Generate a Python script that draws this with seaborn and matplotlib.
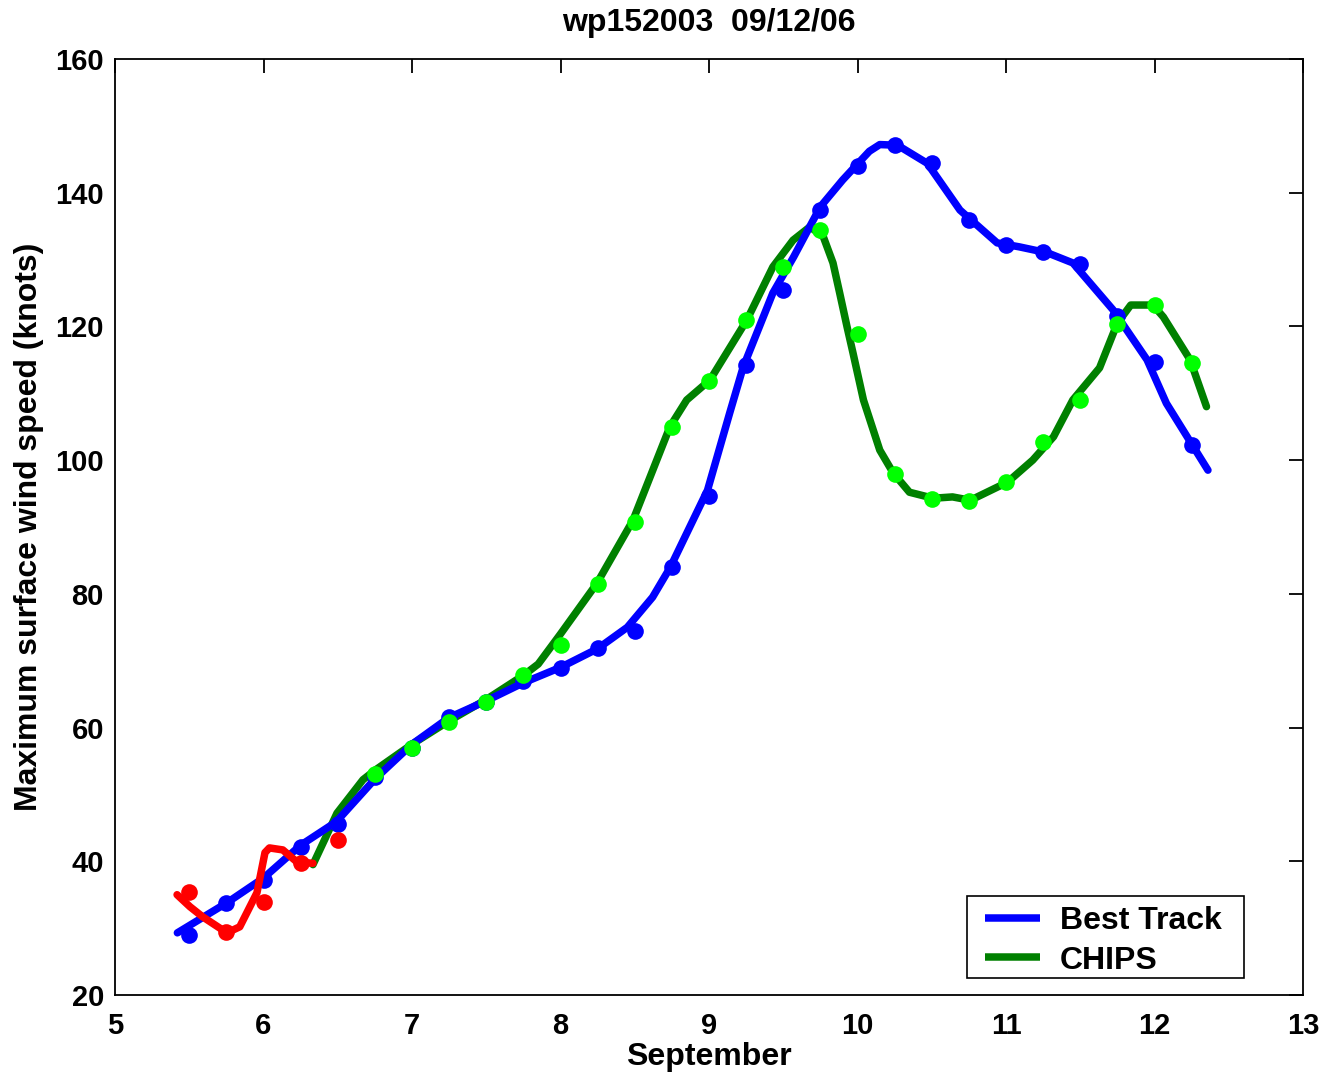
import matplotlib
matplotlib.use("Agg")
import matplotlib.pyplot as plt
import seaborn as sns
from matplotlib.lines import Line2D
from matplotlib.patches import Rectangle

# Best Track (markers every 6 h)
bt_x = [5.5, 5.75, 6.0, 6.25, 6.5, 6.75, 7.0, 7.25, 7.5, 7.75, 8.0, 8.25, 8.5, 8.75,
        9.0, 9.25, 9.5, 9.75, 10.0, 10.25, 10.5, 10.75, 11.0, 11.25, 11.5, 11.75, 12.0, 12.25]
bt_y = [29.0, 33.8, 37.2, 42.1, 45.6, 52.6, 57.0, 61.6, 63.8, 67.0, 68.9, 71.9, 74.4, 84.0,
        94.6, 114.2, 125.4, 137.4, 144.0, 147.1, 144.4, 135.9, 132.2, 131.1, 129.3, 121.6, 114.7, 102.3]
# Best Track smoothed curve
btl_x = [5.42, 5.754, 6.0, 6.25, 6.49, 6.75, 7.0, 7.25, 7.5, 7.75, 8.0, 8.25, 8.45, 8.62, 8.74,
         8.99, 9.14, 9.23, 9.43, 9.57, 9.75, 9.9, 10.0, 10.08, 10.15, 10.27, 10.47, 10.69, 10.94, 11.09,
         11.28, 11.45, 11.72, 11.95, 12.08, 12.36]
btl_y = [29.3, 33.8, 37.5, 42.4, 45.9, 52.3, 57.5, 61.5, 64.0, 66.7, 69.0, 71.8, 75.0, 79.5, 84.0,
         95.5, 107.1, 113.9, 125.0, 130.4, 137.9, 141.9, 144.3, 146.2, 147.2, 147.1, 144.4, 137.4, 132.5, 131.9,
         131.0, 129.5, 122.5, 115.0, 108.5, 98.5]

# CHIPS (markers every 6 h)
ch_x = [6.75, 7.0, 7.25, 7.5, 7.75, 8.0, 8.25, 8.5, 8.75, 9.0, 9.25, 9.5, 9.75, 10.0,
        10.25, 10.5, 10.75, 11.0, 11.25, 11.5, 11.75, 12.0, 12.25]
ch_y = [53.1, 57.0, 60.8, 63.8, 67.9, 72.4, 81.5, 90.8, 105.0, 111.8, 121.0, 128.9, 134.4, 118.9,
        97.9, 94.2, 93.9, 96.7, 102.7, 109.0, 120.4, 123.2, 114.5]
# CHIPS smoothed curve
chl_x = [6.333, 6.495, 6.67, 6.75, 7.0, 7.25, 7.5, 7.75, 7.85, 8.0, 8.246, 8.488, 8.737, 8.85,
         9.007, 9.256, 9.43, 9.566, 9.68, 9.77, 9.835, 9.88, 9.93, 9.97, 10.04, 10.15, 10.24,
         10.35, 10.51, 10.64, 10.76, 11.01, 11.18, 11.32, 11.45, 11.63, 11.75, 11.84, 11.99,
         12.06, 12.24, 12.35]
chl_y = [39.5, 47.2, 52.2, 53.6, 57.5, 61.0, 64.2, 67.8, 69.5, 74.0, 81.6, 91.0, 105.0, 109.0,
         112.0, 121.0, 128.9, 132.9, 134.9, 133.4, 129.5, 125.0, 119.9, 116.0, 109.0, 101.5, 98.1,
         95.2, 94.3, 94.5, 94.0, 96.7, 100.0, 103.5, 109.0, 113.8, 120.5, 123.2, 123.2,
         121.4, 115.0, 108.0]

# Early CHIPS (red)
red_x = [5.5, 5.75, 6.0, 6.25, 6.5]
red_y = [35.4, 29.4, 33.9, 39.7, 43.2]
redl_x = [5.418, 5.505, 5.59, 5.754, 5.84, 5.956, 6.01, 6.04, 6.13, 6.225, 6.333]
redl_y = [35.0, 33.2, 31.7, 29.3, 30.2, 35.3, 41.3, 42.0, 41.7, 39.9, 39.7]

title = "wp152003  09/12/06"
xlabel = "September"
ylabel = "Maximum surface wind speed (knots)"
legend_labels = ["Best Track", "CHIPS"]
xticks = [5, 6, 7, 8, 9, 10, 11, 12, 13]
yticks = [20, 40, 60, 80, 100, 120, 140, 160]

sns.set_style("white")
plt.rcParams["font.family"] = ["Liberation Sans", "DejaVu Sans"]
plt.rcParams["font.weight"] = "bold"
plt.rcParams["text.color"] = "black"
plt.rcParams["axes.labelcolor"] = "black"
plt.rcParams["xtick.color"] = "black"
plt.rcParams["ytick.color"] = "black"

W, H = 1329, 1079
fig = plt.figure(figsize=(W / 100, H / 100), dpi=100)
AX_L, AX_R, AX_T, AX_B = 115, 1303, 59, 995
ax = fig.add_axes([AX_L / W, 1 - AX_B / H, (AX_R - AX_L) / W, (AX_B - AX_T) / H])

def ax_frac(px, py):
    return ((px - AX_L) / (AX_R - AX_L), (AX_B - py) / (AX_B - AX_T))

BLUE = (0, 0, 1)
DGREEN = (0, 0.5, 0)
LGREEN = (0, 1, 0)
RED = (1, 0, 0)
LW = 5.4
MS = 12

sns.lineplot(x=chl_x, y=chl_y, ax=ax, color=DGREEN, lw=LW, sort=False, estimator=None, zorder=2)
sns.lineplot(x=btl_x, y=btl_y, ax=ax, color=BLUE, lw=LW, sort=False, estimator=None, zorder=3)
sns.lineplot(x=bt_x, y=bt_y, ax=ax, color=BLUE, lw=0, marker="o", markersize=MS,
             markeredgewidth=0, sort=False, estimator=None, zorder=4)
sns.lineplot(x=ch_x, y=ch_y, ax=ax, color=LGREEN, lw=0, marker="o", markersize=MS,
             markeredgewidth=0, sort=False, estimator=None, zorder=5)
sns.lineplot(x=redl_x, y=redl_y, ax=ax, color=RED, lw=LW, sort=False, estimator=None, zorder=6)
sns.lineplot(x=red_x, y=red_y, ax=ax, color=RED, lw=0, marker="o", markersize=MS,
             markeredgewidth=0, sort=False, estimator=None, zorder=7)

ax.set_xlim(5, 13)
ax.set_ylim(20, 160)
ax.set_xticks(xticks)
ax.set_yticks(yticks)
ax.set_xticklabels([str(t) for t in xticks])
ax.set_yticklabels([str(t) for t in yticks])
ax.tick_params(axis="both", direction="in", length=10, width=1.3, top=True, right=True,
               labelsize=21, colors="black")
ax.tick_params(axis="x", pad=12)
ax.tick_params(axis="y", pad=8)
for lab in ax.get_xticklabels() + ax.get_yticklabels():
    lab.set_fontweight("bold")
for s in ax.spines.values():
    s.set_visible(True)
    s.set_color("black")
    s.set_linewidth(1.3)

ax.set_title(title, fontsize=23, fontweight="bold", pad=20, color="black")
ax.set_xlabel(xlabel, fontsize=23, fontweight="bold", labelpad=2, color="black")
ax.set_ylabel(ylabel, fontsize=23, fontweight="bold", labelpad=8, color="black")

# legend: frameless content plus a separate box matching the reference frame
handles = [Line2D([], [], color=BLUE, lw=LW, solid_capstyle="butt"),
           Line2D([], [], color=DGREEN, lw=LW, solid_capstyle="butt")]
leg = ax.legend(handles, legend_labels, loc="upper left",
                bbox_to_anchor=ax_frac(985, 906), fontsize=23, frameon=False,
                handlelength=1.72, handletextpad=0.62, borderpad=0.0,
                labelspacing=0.3, borderaxespad=0)
for t in leg.get_texts():
    t.set_fontweight("bold")
    t.set_color("black")
x0, y0 = ax_frac(967, 978)
x1, y1 = ax_frac(1244, 896)
ax.add_patch(Rectangle((x0, y0), x1 - x0, y1 - y0, transform=ax.transAxes,
                       facecolor="white", edgecolor="black", lw=1.2, zorder=8))
leg.set_zorder(9)

fig.savefig("out.png", dpi=100)
